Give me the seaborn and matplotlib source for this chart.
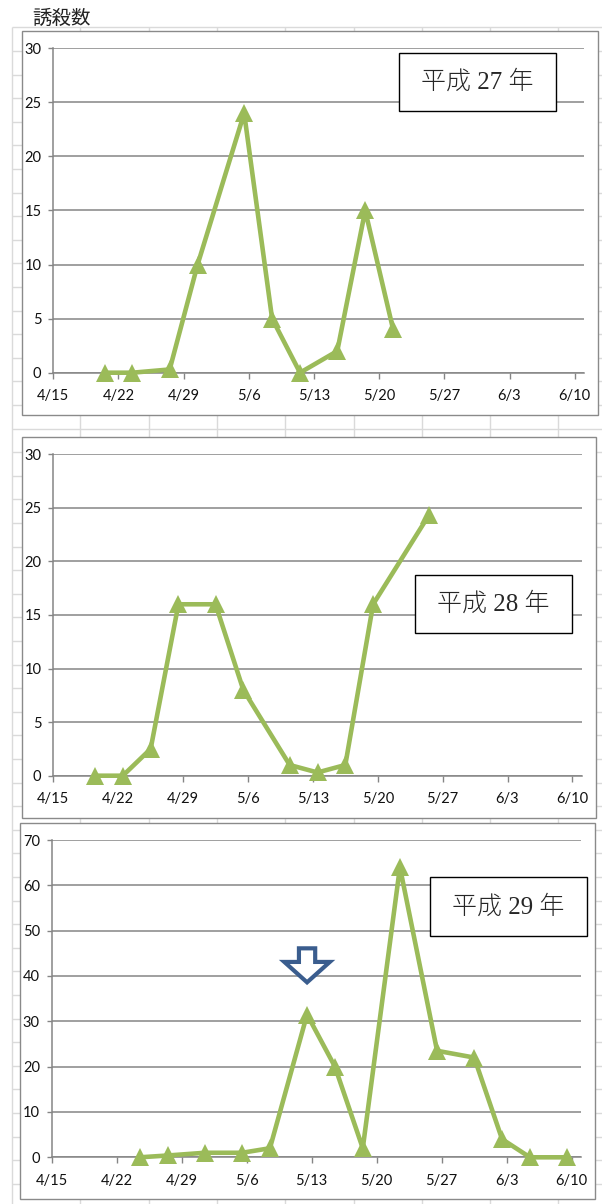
import numpy as np
import pandas as pd
import matplotlib
matplotlib.use("Agg")
import matplotlib.pyplot as plt
from matplotlib.patches import Rectangle, FancyArrow
import matplotlib.dates as mdates
import seaborn as sns

# 誘殺数 (trap catch) per survey date, 平成27–29年
h27_dates = ["2015-04-20", "2015-04-23", "2015-04-27", "2015-04-30", "2015-05-05",
             "2015-05-08", "2015-05-11", "2015-05-15", "2015-05-18", "2015-05-21"]
h27_counts = [0, 0, 0.3, 10, 24, 5, 0, 2, 15, 4]

h28_dates = ["2016-04-19", "2016-04-22", "2016-04-25", "2016-04-28", "2016-05-02",
             "2016-05-05", "2016-05-10", "2016-05-13", "2016-05-16", "2016-05-19",
             "2016-05-25"]
h28_counts = [0, 0, 2.5, 16, 16, 8, 1, 0.3, 1, 16, 24.3]

h29_dates = ["2017-04-24", "2017-04-27", "2017-05-01", "2017-05-05", "2017-05-08",
             "2017-05-12", "2017-05-15", "2017-05-18", "2017-05-22", "2017-05-26",
             "2017-05-30", "2017-06-02", "2017-06-05", "2017-06-09"]
h29_counts = [0, 0.4, 1, 1, 2, 31.5, 20, 2, 64, 23.5, 22, 4, 0, 0]

years = [2015, 2016, 2017]
panel_labels = ["平成 27 年", "平成 28 年", "平成 29 年"]
tick_labels = ["4/15", "4/22", "4/29", "5/6", "5/13", "5/20", "5/27", "6/3", "6/10"]
y_maxes = [30, 30, 70]
y_steps = [5, 5, 10]
highlight_date = "2017-05-12"   # date marked with the arrow in 平成29年

series = [(h27_dates, h27_counts), (h28_dates, h28_counts), (h29_dates, h29_counts)]

GREEN = "#9BBB59"
GRID = "#858585"
CELL = "#dadada"
ARROW = "#3A5D8E"

sns.set_style("white")
plt.rcParams["font.family"] = ["Liberation Sans Narrow", "Lato", "DejaVu Sans"]

W, H = 602, 1204
fig = plt.figure(figsize=(W / 100, H / 100), dpi=100)

# spreadsheet cell grid behind the charts
bg = fig.add_axes([0, 0, 1, 1], zorder=0)
bg.set_xlim(0, W)
bg.set_ylim(H, 0)
bg.axis("off")
for x in np.arange(12, W, 68.3):
    bg.plot([x, x], [27.4, H], color=CELL, lw=1.0, solid_capstyle="butt")
for y in np.arange(27.4, H, 23.6):
    bg.plot([12, W], [y, y], color=CELL, lw=1.0, solid_capstyle="butt")

# chart frames (left, top, right, bottom in pixels)
frames = [(21.5, 30.5, 598, 415), (21.5, 437, 596, 818), (20, 823, 595, 1199)]
for l, t, r, b in frames:
    bg.add_patch(Rectangle((l, t), r - l, b - t, facecolor="white",
                           edgecolor="#8a8a8a", lw=1.0, zorder=3))

# plot areas (left, top, right, bottom in pixels)
plot_areas = [(53.3, 48.3, 584, 372.7), (53.3, 454.3, 581.7, 775.7), (51.7, 840, 581, 1157.3)]
# label boxes in axes fractions (x0, y0, x1, y1)
label_boxes = [(0.652, 0.807, 0.947, 0.9855), (0.6845, 0.444, 0.9817, 0.6245),
               (0.7147, 0.6974, 1.0113, 0.8834)]

for i, (dates, counts) in enumerate(series):
    l, t, r, b = plot_areas[i]
    ax = fig.add_axes([l / W, 1 - b / H, (r - l) / W, (b - t) / H], zorder=2)
    ax.set_facecolor("none")

    # points sit in the middle of each day
    df = pd.DataFrame({"date": pd.to_datetime(dates) + pd.Timedelta(hours=12),
                       "count": counts})
    sns.lineplot(data=df, x="date", y="count", ax=ax, color=GREEN, lw=3.3,
                 marker="^", markersize=13, markeredgewidth=0,
                 markerfacecolor=GREEN, zorder=4, clip_on=False)

    yr = years[i]
    ticks = [pd.Timestamp(f"{yr}-{lab.replace('/', '-')}") for lab in tick_labels]
    ax.set_xlim(ticks[0], ticks[-1] + pd.Timedelta(days=1))
    ax.set_xticks(ticks)
    ax.set_xticklabels(tick_labels)
    ax.set_ylim(0, y_maxes[i])
    ax.set_yticks(np.arange(0, y_maxes[i] + 1, y_steps[i]))
    ax.set_xlabel("")
    ax.set_ylabel("")

    ax.grid(axis="y", color=GRID, lw=1.1)
    ax.grid(axis="x", visible=False)
    for side in ["top", "right"]:
        ax.spines[side].set_visible(False)
    for side in ["left", "bottom"]:
        ax.spines[side].set_color(GRID)
        ax.spines[side].set_linewidth(1.1)
    ax.tick_params(axis="x", direction="out", length=4, width=1.0, color=GRID,
                   pad=8, labelsize=10.5, labelcolor="#111111", bottom=True)
    ax.tick_params(axis="y", direction="out", length=3.5, width=1.0, color=GRID,
                   pad=5, labelsize=10.5, labelcolor="#111111", left=True)

    x0, y0, x1, y1 = label_boxes[i]
    ax.add_patch(Rectangle((x0, y0), x1 - x0, y1 - y0, transform=ax.transAxes,
                           facecolor="white", edgecolor="black", lw=1.0,
                           zorder=5, clip_on=False))
    ax.text((x0 + x1) / 2, (y0 + y1) / 2, panel_labels[i], transform=ax.transAxes,
            ha="center", va="center", fontsize=18, zorder=6,
            family=["Liberation Serif", "Noto Sans CJK JP"], weight="light")

    if i == 2:
        hl = pd.Timestamp(highlight_date) + pd.Timedelta(hours=12)
        peak = df.loc[df["date"] == hl, "count"].iloc[0]
        xc = mdates.date2num(hl)
        ax.add_patch(FancyArrow(xc, peak + 14.6, 0, -7.5, width=1.75,
                                head_width=4.9, head_length=4.5,
                                length_includes_head=True, facecolor="white",
                                edgecolor=ARROW, lw=3.0, joinstyle="miter",
                                zorder=6))

fig.text(32 / W, 1 - 18 / H, "誘殺数", ha="left", va="center", fontsize=14,
         family=["Noto Sans CJK JP"], color="#222222")

fig.savefig("out.png", dpi=100)
